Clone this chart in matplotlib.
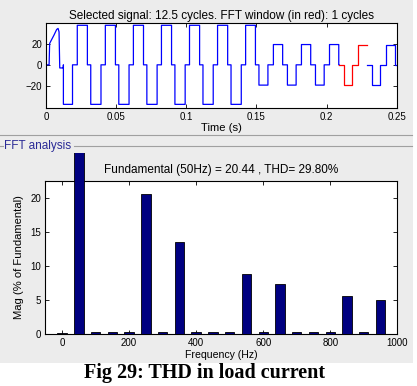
import matplotlib
matplotlib.use("Agg")
import matplotlib.pyplot as plt
from matplotlib.transforms import Bbox, TransformedBbox
from matplotlib.lines import Line2D

plt.rcParams['font.family'] = ['Liberation Sans', 'DejaVu Sans']

# ---------------- data: time-domain signal ----------------
# start-up transient (first positive half cycle)
trans_t = [0.0, 0.0022, 0.0026, 0.0038, 0.0057, 0.0076, 0.0086, 0.0093, 0.0098, 0.0123]
trans_v = [0.0, 0.0, 20.6, 23.7, 28.6, 34.0, 35.0, 31.7, -3.0, -3.0]
# rectangular pulses: switch-on time, switch-off time, level
pulse_on = [0.0124, 0.0223, 0.0319, 0.0423, 0.0519, 0.0623, 0.0719, 0.0823, 0.0919,
            0.1023, 0.1119, 0.1223, 0.1319, 0.1423, 0.1518, 0.1621, 0.1721, 0.1821,
            0.1921, 0.2021, 0.2121, 0.2221, 0.2321, 0.2421]
pulse_off = [0.0189, 0.0295, 0.0392, 0.0495, 0.0592, 0.0695, 0.0792, 0.0895, 0.0992,
             0.1095, 0.1192, 0.1295, 0.1392, 0.1493, 0.1582, 0.1687, 0.1783, 0.1887,
             0.1983, 0.2087, 0.2183, 0.2287, 0.2383, 0.2487]
pulse_amp = [-38, 38, -38, 38, -38, 38, -38, 38, -38,
             38, -38, 38, -38, 38, -19.5, 19.5, -19.5, 19.5,
             -19.5, 19.5, -19.5, 19.5, -19.5, 19.5]
t_end = 0.25
fft_win = (0.2089, 0.2286)      # red FFT window (one cycle)
blue_restart = 0.2289

# ---------------- data: FFT spectrum ----------------
freqs = [0, 50, 100, 150, 200, 250, 300, 350, 400, 450, 500, 550, 600, 650, 700,
         750, 800, 850, 900, 950]
mags = [0.15, 100, 0.3, 0.3, 0.3, 20.6, 0.3, 13.5, 0.3, 0.3, 0.3, 8.8, 0.3, 7.4, 0.3,
        0.3, 0.3, 5.6, 0.3, 5.0]
fund_hz = 50
fund_mag = 20.44
thd = 29.80

time_ticks = [0, 0.05, 0.1, 0.15, 0.2, 0.25]
time_ticklabels = ['0', '0.05', '0.1', '0.15', '0.2', '0.25']
sig_yticks = [-20, 0, 20]
freq_ticks = [0, 200, 400, 600, 800, 1000]
mag_ticks = [0, 5, 10, 15, 20]


def waveform_vertices(ta, tb):
    """Step vertices of the pulse waveform restricted to [ta, tb]."""
    ts, vs = [], []
    if ta <= trans_t[-1]:
        for t, v in zip(trans_t, trans_v):
            if ta <= t <= tb:
                ts.append(t); vs.append(v)
    else:
        level = 0.0
        for on, off, a in zip(pulse_on, pulse_off, pulse_amp):
            if on <= ta < off:
                level = a
        ts.append(ta); vs.append(level)
    for on, off, a in zip(pulse_on, pulse_off, pulse_amp):
        if ta < on <= tb:
            ts += [on, on]; vs += [0.0, a]
        if ta < off <= tb:
            ts += [off, off]; vs += [a, 0.0]
    last = vs[-1]
    if ts[-1] < tb:
        ts.append(tb); vs.append(last)
    return ts, vs


W, H = 417, 386
fig = plt.figure(figsize=(W / 100, H / 100), dpi=100)
bg = '#ececec'
fig.patch.set_facecolor('white')
# grey GUI panel area
fig.patches.append(plt.Rectangle((0, 1 - 363 / H), 413 / W, 363 / H,
                                 transform=fig.transFigure, facecolor=bg,
                                 edgecolor='none', zorder=-10))

def fx(px):
    return px / W

def fy(py):
    return 1 - py / H

# ---------------- top axes: signal ----------------
ax1 = fig.add_axes([fx(46), fy(108), fx(396.7) - fx(46), fy(22.7) - fy(108)])
t1, v1 = waveform_vertices(0.0, fft_win[0])
tr, vr = waveform_vertices(fft_win[0], fft_win[1])
t2, v2 = waveform_vertices(blue_restart, t_end)
ax1.plot(t1, v1, color='#0000ff', lw=0.9)
ax1.plot(tr, vr, color='#ff0000', lw=0.9)
ax1.plot(t2, v2, color='#0000ff', lw=0.9)
ax1.set_xlim(0, 0.25)
ax1.set_ylim(-41.5, 40.5)
ax1.set_xticks(time_ticks)
ax1.set_xticklabels(time_ticklabels)
ax1.set_yticks(sig_yticks)
ax1.tick_params(direction='in', length=3, width=0.6, top=True, right=True,
                labelsize=7, pad=3)
for s in ax1.spines.values():
    s.set_linewidth(0.8)
ax1.set_title('Selected signal: 12.5 cycles. FFT window (in red): 1 cycles',
              fontsize=8.5, pad=3)
ax1.set_xlabel('Time (s)', fontsize=8.1, labelpad=0.5)

# separators and panel title
fig.add_artist(Line2D([0, 1 * 412 / W], [fy(135), fy(135)], transform=fig.transFigure,
                      color='#a0a0a0', lw=0.8))
fig.add_artist(Line2D([fx(74), fx(412)], [fy(146), fy(146)], transform=fig.transFigure,
                      color='#a0a0a0', lw=0.8))
fig.add_artist(Line2D([0, fx(2.5)], [fy(146), fy(146)], transform=fig.transFigure,
                      color='#a0a0a0', lw=0.8))
fig.text(fx(4.5), fy(146), 'FFT analysis', fontsize=8.5, color='#2a2a96',
         ha='left', va='center')

# ---------------- bottom axes: spectrum ----------------
ax2 = fig.add_axes([fx(45.3), fy(334), fx(397.3) - fx(45.3), fy(181) - fy(334)])
bars = ax2.bar(freqs, mags, width=28, color='#000080', edgecolor='#000000',
               linewidth=0.6, zorder=3)
ax2.set_xlim(-50, 1000)
ax2.set_ylim(0, 22.5)
ax2.set_xticks(freq_ticks)
ax2.set_yticks(mag_ticks)
ax2.tick_params(direction='in', length=3, width=0.6, top=True, right=True,
                labelsize=7, pad=3)
for s in ax2.spines.values():
    s.set_linewidth(0.8)
ax2.set_title('Fundamental (%dHz) = %.2f , THD= %.2f%%' % (fund_hz, fund_mag, thd),
              fontsize=8.5, pad=6)
ax2.set_xlabel('Frequency (Hz)', fontsize=7.6, labelpad=1)
ax2.set_ylabel('Mag (% of Fundamental)', fontsize=8.1, labelpad=4.5)

# the fundamental bar runs out of the axes up to the panel border
clip = TransformedBbox(Bbox([[0, fy(334)], [1, fy(152.5)]]), fig.transFigure)
for f, p in zip(freqs, bars.patches):
    if f == fund_hz:
        p.set_clip_box(clip)

fig.text(fx(205), fy(373), 'Fig 29: THD in load current', fontsize=14.5,
         fontweight='bold', family='Liberation Serif', ha='center', va='center')

fig.savefig('out.png', dpi=100, facecolor=fig.get_facecolor())
